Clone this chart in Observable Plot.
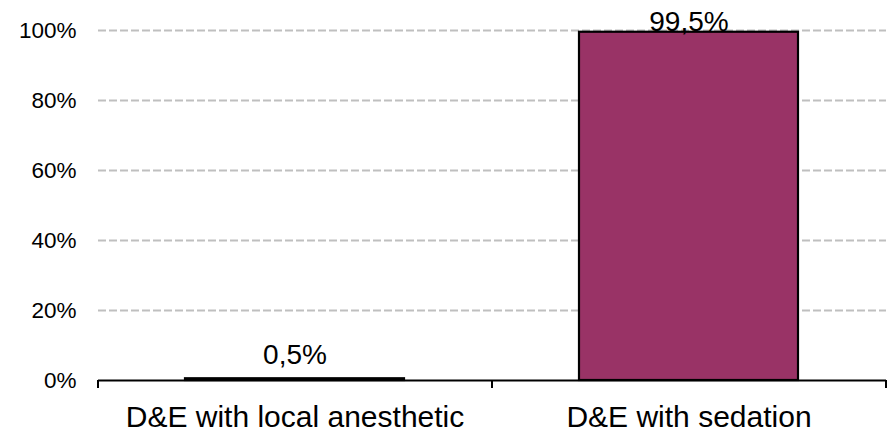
<!DOCTYPE html>
<html>
<head>
<meta charset="utf-8">
<script src="https://cdn.jsdelivr.net/npm/d3@7"></script>
<script src="https://cdn.jsdelivr.net/npm/@observablehq/plot@0.6"></script>
<style>
  html, body { margin: 0; padding: 0; background: #fff; }
  #chart { width: 891px; height: 432px; }
  svg { font-family: "Liberation Sans", Arial, sans-serif; }
</style>
</head>
<body>
<div id="chart"></div>
<script>
const categories = ["D&E with local anesthetic", "D&E with sedation"];
const values = [0.5, 99.5];
const yTicks = [0, 20, 40, 60, 80, 100];
const gridTicks = [20, 40, 60, 80, 100];

const data = categories.map((c, i) => ({category: c, value: values[i]}));
const fmt = v => v.toFixed(1).replace(".", ",") + "%";

const W = 891, H = 432;
const mL = 98, mR = 5, mT = 30, mB = 52;

// boundary ticks on the category axis
function boundaryTicks(index, scales, values, dimensions) {
  const {width, height, marginLeft, marginRight, marginBottom} = dimensions;
  const n = categories.length;
  const step = (width - marginLeft - marginRight) / n;
  const y0 = height - marginBottom;
  const g = d3.create("svg:g");
  for (let i = 0; i <= n; i++) {
    const x = marginLeft + i * step;
    g.append("line").attr("x1", x).attr("x2", x).attr("y1", y0).attr("y2", y0 + 8)
      .attr("stroke", "black").attr("stroke-width", 2);
  }
  return g.node();
}

const chart = Plot.plot({
  width: W,
  height: H,
  marginLeft: mL,
  marginRight: mR,
  marginTop: mT,
  marginBottom: mB,
  style: {fontFamily: "Liberation Sans, Arial, sans-serif", color: "black", background: "white"},
  x: {domain: categories, paddingInner: 0.444, paddingOuter: 0.222, label: null},
  y: {domain: [0, 100], label: null},
  marks: [
    Plot.ruleY(gridTicks, {stroke: "#bfbfbf", strokeWidth: 2, strokeDasharray: "8,3"}),
    Plot.barY(data, {x: "category", y: "value", fill: "#993366", stroke: "black", strokeWidth: 2.2}),
    Plot.ruleY([0], {stroke: "black", strokeWidth: 2}),
    boundaryTicks,
    Plot.axisY(yTicks, {tickSize: 0, tickPadding: 22, tickFormat: d => d + "%", fontSize: 22.5, fill: "black"}),
    Plot.axisX({tickSize: 0, tickPadding: 25, fontSize: 30, fill: "black"}),
    Plot.text(data, {
      x: "category",
      y: d => Math.min(d.value + 4.2, 99.8),
      text: d => fmt(d.value),
      lineAnchor: "bottom",
      fontSize: 28,
      fill: "black"
    })
  ]
});

document.getElementById("chart").appendChild(chart);
</script>
</body>
</html>
